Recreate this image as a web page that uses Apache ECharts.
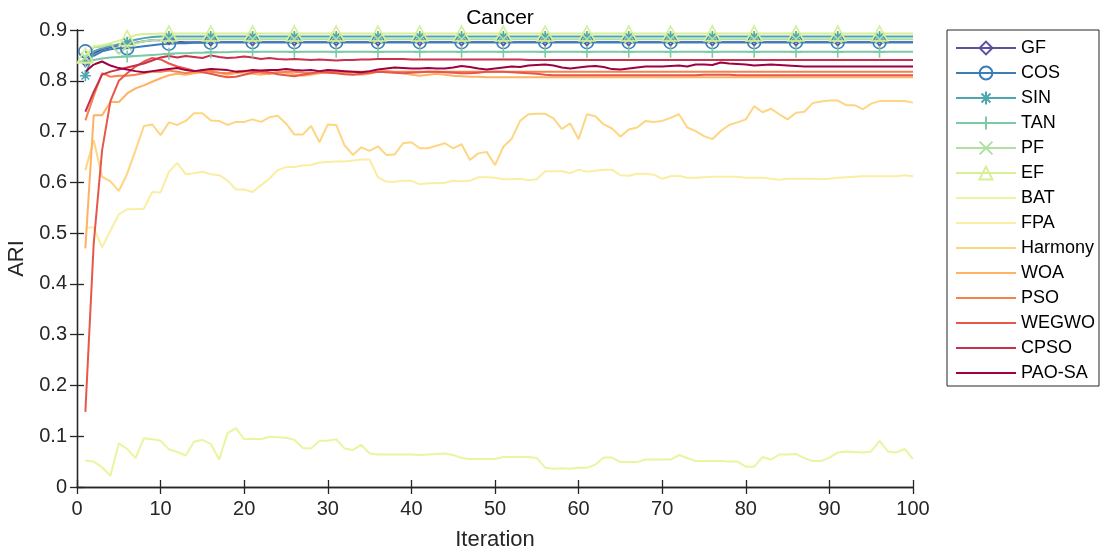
<!DOCTYPE html>
<html lang="en">
<head>
    <meta charset="UTF-8">
    <title>Cancer</title>
    <script src="https://cdn.jsdelivr.net/npm/echarts@6/dist/echarts.min.js"></script>
    <style>
        html, body {margin: 0; padding: 0; background: #fff;}
    </style>
</head>
<body>
<div id="main" style="width: 1102px;height: 553px"></div>
<script>
    // ARI per iteration (1..100)
    var names = ['GF', 'COS', 'SIN', 'TAN', 'PF', 'EF', 'BAT', 'FPA', 'Harmony', 'WOA', 'PSO', 'WEGWO', 'CPSO', 'PAO-SA'];
    var colors = ['#5e4fa2', '#3a7eb8', '#4ea7b0', '#7bcaa5', '#b0dfa3', '#d8ef98', '#ecf4a0', '#f9eea2',
        '#fed682', '#fdb264', '#f7814c', '#e65749', '#c8304c', '#9e0142'];
    var xTicks = [0, 10, 20, 30, 40, 50, 60, 70, 80, 90, 100];
    var yTicks = [0, 0.1, 0.2, 0.3, 0.4, 0.5, 0.6, 0.7, 0.8, 0.9];

    var GF = [0.835,0.854,0.862,0.866,0.870,0.872,0.875,0.878,0.880,0.880,
        0.879,0.877,0.876,0.876,0.876,0.876,0.876,0.876,0.876,0.876,
        0.876,0.876,0.876,0.876,0.876,0.876,0.876,0.876,0.876,0.876,
        0.876,0.876,0.876,0.876,0.876,0.876,0.876,0.876,0.876,0.876,
        0.876,0.876,0.876,0.876,0.876,0.876,0.876,0.876,0.876,0.876,
        0.876,0.876,0.876,0.876,0.876,0.876,0.876,0.876,0.876,0.876,
        0.876,0.876,0.876,0.876,0.876,0.876,0.876,0.876,0.876,0.876,
        0.876,0.876,0.876,0.876,0.876,0.876,0.876,0.876,0.876,0.876,
        0.876,0.876,0.876,0.876,0.876,0.876,0.876,0.876,0.876,0.876,
        0.876,0.876,0.876,0.876,0.876,0.876,0.876,0.876,0.876,0.876];
    var COS = [0.858,0.849,0.858,0.862,0.864,0.864,0.866,0.868,0.870,0.872,
        0.873,0.874,0.874,0.875,0.875,0.875,0.876,0.876,0.876,0.876,
        0.876,0.876,0.876,0.876,0.876,0.876,0.876,0.876,0.876,0.876,
        0.876,0.876,0.876,0.876,0.876,0.876,0.876,0.876,0.876,0.876,
        0.876,0.876,0.876,0.876,0.876,0.876,0.876,0.876,0.876,0.876,
        0.876,0.876,0.876,0.876,0.876,0.876,0.876,0.876,0.876,0.876,
        0.876,0.876,0.876,0.876,0.876,0.876,0.876,0.876,0.876,0.876,
        0.876,0.876,0.876,0.876,0.876,0.876,0.876,0.876,0.876,0.876,
        0.876,0.876,0.876,0.876,0.876,0.876,0.876,0.876,0.876,0.876,
        0.876,0.876,0.876,0.876,0.876,0.876,0.876,0.876,0.876,0.876];
    var SIN = [0.810,0.858,0.864,0.868,0.872,0.876,0.881,0.884,0.886,0.887,
        0.887,0.887,0.887,0.887,0.887,0.887,0.887,0.887,0.887,0.887,
        0.887,0.887,0.887,0.887,0.887,0.887,0.887,0.887,0.887,0.887,
        0.887,0.887,0.887,0.887,0.887,0.887,0.887,0.887,0.887,0.887,
        0.887,0.887,0.887,0.887,0.887,0.887,0.887,0.887,0.887,0.887,
        0.887,0.887,0.887,0.887,0.887,0.887,0.887,0.887,0.887,0.887,
        0.887,0.887,0.887,0.887,0.887,0.887,0.887,0.887,0.887,0.887,
        0.887,0.887,0.887,0.887,0.887,0.887,0.887,0.887,0.887,0.887,
        0.887,0.887,0.887,0.887,0.887,0.887,0.887,0.887,0.887,0.887,
        0.887,0.887,0.887,0.887,0.887,0.887,0.887,0.887,0.887,0.887];
    var TAN = [0.838,0.841,0.844,0.846,0.847,0.848,0.849,0.850,0.851,0.852,
        0.853,0.854,0.854,0.855,0.855,0.856,0.856,0.856,0.857,0.857,
        0.857,0.857,0.857,0.857,0.857,0.857,0.857,0.857,0.857,0.857,
        0.857,0.857,0.857,0.857,0.857,0.857,0.857,0.857,0.857,0.857,
        0.857,0.857,0.857,0.857,0.857,0.857,0.857,0.857,0.857,0.857,
        0.857,0.857,0.857,0.857,0.857,0.857,0.857,0.857,0.857,0.857,
        0.857,0.857,0.857,0.857,0.857,0.857,0.857,0.857,0.857,0.857,
        0.857,0.857,0.857,0.857,0.857,0.857,0.857,0.857,0.857,0.857,
        0.857,0.857,0.857,0.857,0.857,0.857,0.857,0.857,0.857,0.857,
        0.857,0.857,0.857,0.857,0.857,0.857,0.857,0.857,0.857,0.857];
    var PF = [0.846,0.866,0.867,0.873,0.853,0.868,0.874,0.878,0.880,0.881,
        0.882,0.882,0.882,0.882,0.882,0.882,0.882,0.882,0.882,0.882,
        0.882,0.882,0.882,0.882,0.882,0.882,0.882,0.882,0.882,0.882,
        0.882,0.882,0.882,0.882,0.882,0.882,0.882,0.882,0.882,0.882,
        0.882,0.882,0.882,0.882,0.882,0.882,0.882,0.882,0.882,0.882,
        0.882,0.882,0.882,0.882,0.882,0.882,0.882,0.882,0.882,0.882,
        0.882,0.882,0.882,0.882,0.882,0.882,0.882,0.882,0.882,0.882,
        0.882,0.882,0.882,0.882,0.882,0.882,0.882,0.882,0.882,0.882,
        0.882,0.882,0.882,0.882,0.882,0.882,0.882,0.882,0.882,0.882,
        0.882,0.882,0.882,0.882,0.882,0.882,0.882,0.882,0.882,0.882];
    var EF = [0.850,0.868,0.870,0.874,0.879,0.884,0.890,0.892,0.892,0.893,
        0.893,0.893,0.893,0.893,0.893,0.893,0.893,0.893,0.893,0.893,
        0.893,0.893,0.893,0.893,0.893,0.893,0.893,0.893,0.893,0.893,
        0.893,0.893,0.893,0.893,0.893,0.893,0.893,0.893,0.893,0.893,
        0.893,0.893,0.893,0.893,0.893,0.893,0.893,0.893,0.893,0.893,
        0.893,0.893,0.893,0.893,0.893,0.893,0.893,0.893,0.893,0.893,
        0.893,0.893,0.893,0.893,0.893,0.893,0.893,0.893,0.893,0.893,
        0.893,0.893,0.893,0.893,0.893,0.893,0.893,0.893,0.893,0.893,
        0.893,0.893,0.893,0.893,0.893,0.893,0.893,0.893,0.893,0.893,
        0.893,0.893,0.893,0.893,0.893,0.893,0.893,0.893,0.893,0.893];
    var BAT = [0.052,0.050,0.039,0.022,0.086,0.075,0.057,0.096,0.094,0.091,
        0.074,0.069,0.062,0.089,0.093,0.085,0.054,0.106,0.116,0.094,
        0.095,0.094,0.099,0.098,0.097,0.093,0.077,0.076,0.091,0.091,
        0.094,0.076,0.073,0.083,0.066,0.064,0.064,0.064,0.064,0.064,
        0.063,0.064,0.065,0.066,0.063,0.057,0.055,0.055,0.055,0.055,
        0.059,0.059,0.059,0.059,0.057,0.038,0.036,0.037,0.036,0.038,
        0.038,0.044,0.058,0.058,0.049,0.049,0.049,0.054,0.054,0.054,
        0.054,0.063,0.057,0.051,0.051,0.051,0.051,0.050,0.050,0.040,
        0.040,0.059,0.054,0.064,0.064,0.065,0.057,0.051,0.051,0.058,
        0.068,0.070,0.069,0.068,0.070,0.091,0.070,0.068,0.075,0.055];
    var FPA = [0.511,0.511,0.472,0.505,0.537,0.547,0.547,0.548,0.581,0.580,
        0.621,0.638,0.616,0.618,0.621,0.616,0.614,0.604,0.586,0.586,
        0.581,0.594,0.607,0.624,0.630,0.630,0.633,0.634,0.639,0.640,
        0.641,0.641,0.643,0.645,0.645,0.610,0.601,0.601,0.603,0.603,
        0.596,0.598,0.598,0.599,0.603,0.602,0.603,0.610,0.610,0.609,
        0.606,0.606,0.607,0.604,0.606,0.622,0.622,0.622,0.618,0.625,
        0.621,0.623,0.625,0.625,0.614,0.613,0.617,0.617,0.615,0.607,
        0.612,0.613,0.609,0.609,0.610,0.611,0.611,0.611,0.611,0.609,
        0.609,0.609,0.607,0.605,0.607,0.607,0.607,0.607,0.606,0.607,
        0.609,0.610,0.611,0.612,0.612,0.612,0.612,0.612,0.614,0.612];
    var Harmony = [0.624,0.683,0.611,0.602,0.583,0.617,0.663,0.711,0.714,0.693,
        0.718,0.713,0.721,0.736,0.736,0.722,0.721,0.713,0.719,0.719,
        0.724,0.719,0.728,0.731,0.716,0.694,0.694,0.711,0.679,0.714,
        0.713,0.673,0.654,0.669,0.662,0.671,0.654,0.655,0.677,0.679,
        0.667,0.667,0.672,0.677,0.667,0.675,0.644,0.657,0.660,0.634,
        0.670,0.686,0.721,0.734,0.735,0.735,0.726,0.705,0.716,0.685,
        0.734,0.730,0.714,0.706,0.690,0.704,0.708,0.721,0.719,0.721,
        0.727,0.734,0.708,0.701,0.691,0.685,0.701,0.713,0.718,0.724,
        0.750,0.738,0.745,0.734,0.724,0.737,0.739,0.756,0.759,0.761,
        0.761,0.752,0.752,0.744,0.755,0.760,0.760,0.760,0.760,0.757];
    var WOA = [0.470,0.732,0.732,0.758,0.758,0.775,0.785,0.791,0.798,0.805,
        0.811,0.814,0.812,0.815,0.817,0.821,0.816,0.812,0.815,0.817,
        0.814,0.812,0.815,0.818,0.816,0.813,0.810,0.812,0.815,0.817,
        0.818,0.816,0.813,0.812,0.814,0.818,0.820,0.817,0.815,0.812,
        0.810,0.812,0.814,0.812,0.810,0.809,0.808,0.808,0.807,0.807,
        0.807,0.807,0.807,0.807,0.807,0.807,0.807,0.807,0.807,0.807,
        0.807,0.807,0.807,0.807,0.807,0.807,0.807,0.807,0.807,0.807,
        0.807,0.807,0.807,0.807,0.807,0.807,0.807,0.807,0.807,0.807,
        0.807,0.807,0.807,0.807,0.807,0.807,0.807,0.807,0.807,0.807,
        0.807,0.807,0.807,0.807,0.807,0.807,0.807,0.807,0.807,0.807];
    var PSO = [0.722,0.770,0.815,0.808,0.810,0.810,0.812,0.815,0.818,0.818,
        0.820,0.818,0.815,0.818,0.820,0.818,0.816,0.815,0.818,0.820,
        0.818,0.816,0.814,0.816,0.818,0.818,0.816,0.815,0.816,0.818,
        0.818,0.818,0.818,0.818,0.818,0.818,0.818,0.818,0.818,0.818,
        0.818,0.818,0.818,0.818,0.818,0.818,0.818,0.818,0.818,0.818,
        0.818,0.818,0.818,0.818,0.818,0.818,0.818,0.818,0.818,0.818,
        0.818,0.818,0.818,0.818,0.818,0.818,0.818,0.818,0.818,0.818,
        0.818,0.818,0.818,0.818,0.818,0.818,0.818,0.818,0.818,0.818,
        0.818,0.818,0.818,0.818,0.818,0.818,0.818,0.818,0.818,0.818,
        0.818,0.818,0.818,0.818,0.818,0.818,0.818,0.818,0.818,0.818];
    var WEGWO = [0.148,0.480,0.663,0.760,0.800,0.815,0.828,0.838,0.845,0.842,
        0.834,0.828,0.824,0.820,0.817,0.814,0.810,0.807,0.808,0.812,
        0.816,0.819,0.817,0.813,0.811,0.809,0.812,0.815,0.818,0.816,
        0.815,0.813,0.812,0.814,0.816,0.818,0.817,0.816,0.815,0.816,
        0.817,0.818,0.818,0.817,0.816,0.815,0.815,0.816,0.818,0.818,
        0.818,0.817,0.816,0.815,0.814,0.812,0.811,0.811,0.811,0.811,
        0.811,0.811,0.811,0.811,0.811,0.811,0.811,0.811,0.811,0.811,
        0.811,0.811,0.811,0.811,0.812,0.812,0.812,0.812,0.811,0.811,
        0.811,0.811,0.811,0.811,0.811,0.811,0.811,0.811,0.811,0.811,
        0.811,0.811,0.811,0.811,0.811,0.811,0.811,0.811,0.811,0.811];
    var CPSO = [0.739,0.778,0.812,0.818,0.822,0.826,0.830,0.834,0.840,0.846,
        0.849,0.846,0.849,0.847,0.845,0.850,0.847,0.845,0.846,0.848,
        0.846,0.843,0.845,0.843,0.842,0.843,0.842,0.841,0.842,0.841,
        0.840,0.841,0.841,0.842,0.842,0.843,0.843,0.843,0.843,0.842,
        0.842,0.842,0.842,0.842,0.842,0.842,0.842,0.842,0.842,0.842,
        0.842,0.842,0.842,0.841,0.841,0.841,0.841,0.841,0.841,0.841,
        0.841,0.841,0.841,0.841,0.841,0.841,0.841,0.841,0.841,0.841,
        0.841,0.841,0.841,0.841,0.841,0.841,0.841,0.841,0.841,0.841,
        0.841,0.841,0.841,0.841,0.841,0.841,0.841,0.841,0.841,0.841,
        0.841,0.841,0.841,0.841,0.841,0.841,0.841,0.841,0.841,0.841];
    var PAOSA = [0.818,0.832,0.838,0.830,0.825,0.822,0.819,0.817,0.819,0.821,
        0.823,0.825,0.821,0.819,0.821,0.823,0.822,0.821,0.818,0.819,
        0.821,0.820,0.821,0.821,0.823,0.821,0.820,0.821,0.819,0.821,
        0.820,0.819,0.818,0.817,0.819,0.822,0.824,0.826,0.825,0.824,
        0.824,0.825,0.824,0.824,0.826,0.829,0.827,0.824,0.822,0.824,
        0.826,0.828,0.827,0.830,0.831,0.832,0.830,0.826,0.824,0.826,
        0.828,0.829,0.827,0.823,0.822,0.824,0.826,0.828,0.828,0.828,
        0.829,0.830,0.828,0.832,0.832,0.831,0.836,0.834,0.833,0.832,
        0.830,0.831,0.832,0.831,0.830,0.829,0.828,0.828,0.828,0.828,
        0.828,0.828,0.828,0.828,0.828,0.828,0.828,0.828,0.828,0.828];

    var values = [GF, COS, SIN, TAN, PF, EF, BAT, FPA, Harmony, WOA, PSO, WEGWO, CPSO, PAOSA];
    // marker shapes (MATLAB style: d o * + x ^), none for the rest
    var markers = ['diamond', 'circle',
        'path://M10,0 L10,20 M0,10 L20,10 M3,3 L17,17 M17,3 L3,17',
        'path://M10,0 L10,20 M0,10 L20,10',
        'path://M0,0 L20,20 M20,0 L0,20',
        'path://M10,0 L20,18 L0,18 Z'];
    var markerSize = [[6, 7], 13, 11, 12, 9, [16, 15]];

    var txt = '#262626';
    var font = 'Liberation Sans, Arial, sans-serif';
    var clear = 'rgba(255,255,255,0)';

    var series = [];
    var legendData = [];
    for (var s = 0; s < names.length; s++) {
        var hasMark = s < markers.length;
        var pts = [];
        for (var i = 0; i < values[s].length; i++) {
            var p = {value: [i + 1, values[s][i]]};
            if (hasMark && i % 5 !== 0) p.symbol = 'none';
            pts.push(p);
        }
        series.push({
            name: names[s],
            type: 'line',
            data: pts,
            symbol: hasMark ? markers[s] : 'none',
            symbolSize: hasMark ? markerSize[s] : 0,
            showAllSymbol: true,
            itemStyle: {
                color: clear,
                borderColor: hasMark ? colors[s] : clear,
                borderWidth: hasMark ? 1.6 : 0
            },
            lineStyle: {color: colors[s], width: 2},
            emphasis: {disabled: true},
            silent: true
        });
        legendData.push(hasMark ? {name: names[s]} :
            {name: names[s], itemStyle: {color: clear, borderColor: clear, borderWidth: 0}});
    }

    var myChart = echarts.init(document.getElementById('main'));
    var option = {
        animation: false,
        backgroundColor: '#fff',
        title: {
            text: 'Cancer',
            left: 495,
            top: 3,
            textAlign: 'center',
            textStyle: {fontFamily: font, fontSize: 21, fontWeight: 'normal', color: '#000'}
        },
        legend: {
            orient: 'vertical',
            left: 947,
            top: 30,
            padding: [9, 4, 4, 8],
            itemWidth: 60,
            itemHeight: 16,
            itemGap: 7,
            borderColor: txt,
            borderWidth: 1,
            backgroundColor: '#fff',
            textStyle: {fontFamily: font, fontSize: 18, color: '#000', lineHeight: 16},
            data: legendData
        },
        grid: {left: 77, right: 189, top: 30, bottom: 66, containLabel: false, outerBoundsMode: 'none'},
        xAxis: [{
            type: 'value',
            min: xTicks[0],
            max: xTicks[xTicks.length - 1],
            interval: xTicks[1] - xTicks[0],
            name: 'Iteration',
            nameLocation: 'middle',
            nameGap: 42,
            nameTextStyle: {fontFamily: font, fontSize: 22, color: txt},
            axisLine: {lineStyle: {color: txt, width: 1.3}},
            axisTick: {inside: true, length: 7, lineStyle: {color: txt, width: 1.3}},
            axisLabel: {fontFamily: font, fontSize: 20, color: txt, margin: 12},
            splitLine: {show: false}
        }, {
            type: 'value',
            position: 'top',
            min: xTicks[0],
            max: xTicks[xTicks.length - 1],
            interval: xTicks[1] - xTicks[0],
            axisLine: {show: true, lineStyle: {color: txt, width: 1.3}},
            axisTick: {show: true, inside: true, length: 7, lineStyle: {color: txt, width: 1.3}},
            axisLabel: {show: false},
            splitLine: {show: false}
        }],
        yAxis: [{
            type: 'value',
            min: yTicks[0],
            max: yTicks[yTicks.length - 1],
            interval: 0.1,
            name: 'ARI',
            nameLocation: 'middle',
            nameGap: 47,
            nameTextStyle: {fontFamily: font, fontSize: 22, color: txt},
            axisLine: {show: true, lineStyle: {color: txt, width: 1.3}},
            axisTick: {show: true, inside: true, length: 7, lineStyle: {color: txt, width: 1.3}},
            axisLabel: {fontFamily: font, fontSize: 20, color: txt, margin: 10},
            splitLine: {show: false}
        }, {
            type: 'value',
            position: 'right',
            min: yTicks[0],
            max: yTicks[yTicks.length - 1],
            interval: 0.1,
            axisLine: {show: true, lineStyle: {color: txt, width: 1.3}},
            axisTick: {show: true, inside: true, length: 7, lineStyle: {color: txt, width: 1.3}},
            axisLabel: {show: false},
            splitLine: {show: false}
        }],
        series: series
    };
    myChart.setOption(option);
</script>
</body>
</html>
